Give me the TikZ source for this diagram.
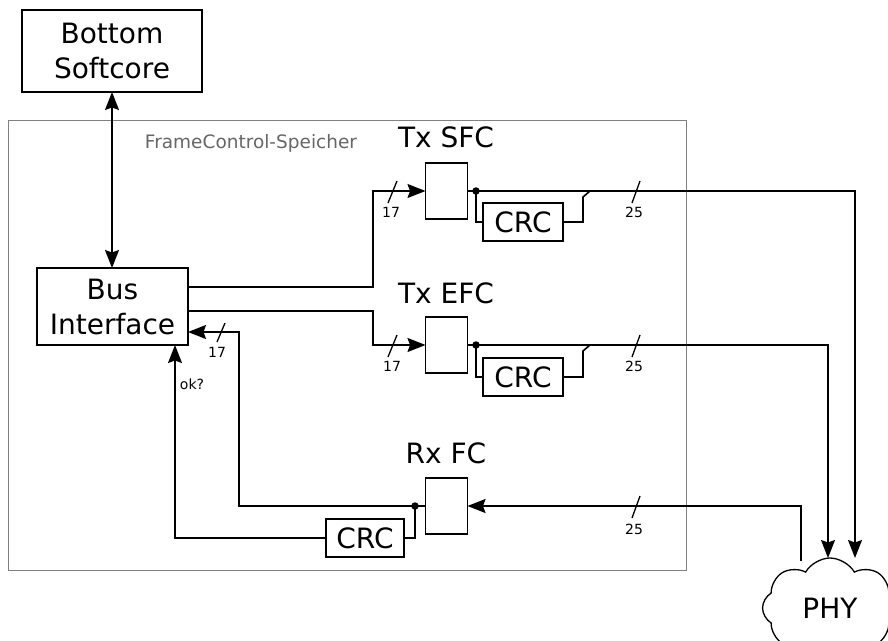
\documentclass[tikz,border=0pt]{standalone}
\usepackage{fontspec}
\setmainfont{DejaVu Sans}
\usetikzlibrary{shapes.symbols,arrows.meta}
\begin{document}
\begin{tikzpicture}[x=1pt,y=-1pt,line width=1.6pt,
  box/.style={draw,line width=1.6pt,inner sep=0pt,outer sep=0pt},
  big/.style={font=\fontsize{28}{35}\selectfont},
  small/.style={font=\fontsize{14}{16}\selectfont},
  tip/.style={-{Stealth[length=18pt,width=14pt,inset=2.5pt]}},
  tips/.style={{Stealth[length=18pt,width=14pt,inset=2.5pt]}-{Stealth[length=18pt,width=14pt,inset=2.5pt]}},
  dot/.style={circle,fill,inner sep=0pt,minimum size=7.5pt},
  lbl/.style={inner sep=0pt}]
\useasboundingbox (0,0) rectangle (888,640);
\clip (0,0) rectangle (888,640);
% frame
\node[draw=black!50,line width=1pt,minimum width=678,minimum height=450,inner sep=0pt] (frame) at (347,345) {};
\node[lbl,text=black!60,font=\fontsize{18.5}{20}\selectfont] (fcs) at (251,143) {FrameControl-Speicher};
% boxes
\node[box,big,align=center,minimum width=180,minimum height=82] (soft) at (112,51) {Bottom\\Softcore};
\node[box,big,align=center,minimum width=151,minimum height=77] (bus) at (112.5,306.5) {Bus\\Interface};
\draw[tips] (soft.south) -- (soft.south |- bus.north);
% registers
\node[box,minimum width=42,minimum height=56] (sfc) at (446.5,191) {};
\node[box,minimum width=42,minimum height=56] (efc) at (446.5,345) {};
\node[box,minimum width=42,minimum height=56] (rx) at (446.5,506) {};
\node[lbl,big] (sfcl) at (446,137) {Tx SFC};
\node[lbl,big] (efcl) at (446,293) {Tx EFC};
\node[lbl,big] (rxl) at (446,453) {Rx FC};
% CRC
\node[box,big,minimum width=80,minimum height=38] (crc1) at (523,222) {CRC};
\node[box,big,minimum width=80,minimum height=38] (crc2) at (523,377) {CRC};
\node[box,big,minimum width=78,minimum height=38] (crc3) at (365,538) {CRC};
% PHY
\node[cloud,draw,line width=1.3pt,cloud puffs=8,cloud puff arc=120,aspect=1.35,minimum width=135,minimum height=100,inner sep=0pt,big] (phy) at (830,608) {PHY};
\coordinate (p1) at (855,558);
\coordinate (p2) at (828,558);
\coordinate (p3) at (801,561);
% dots
\node[dot] (d1) at (476,191) {};
\node[dot] (d2) at (476,345) {};
\node[dot] (d3) at (415,506) {};
% Tx SFC path
\draw[tip] (bus.east |- 0,287) -- (373,287) -- (373,191) -- (sfc.west);
\draw[tip] (sfc.east) -- (855,191) -- (p1);
\draw (d1.center) |- (crc1.west);
\draw (crc1.east) -- (583,222) -- (583,197) -- (590,191);
\draw[line width=1.3pt] (388,203) -- (397,181);
\node[lbl,small] (n17a) at (391,212) {17};
\draw[line width=1.3pt] (632,203) -- (640,181);
\node[lbl,small] (n25a) at (634,212) {25};
% Tx EFC path
\draw[tip] (bus.east |- 0,311) -- (373,311) -- (373,345) -- (efc.west);
\draw[tip] (efc.east) -- (828,345) -- (p2);
\draw (d2.center) |- (crc2.west);
\draw (crc2.east) -- (583,377) -- (583,351) -- (590,345);
\draw[line width=1.3pt] (388,357) -- (397,335);
\node[lbl,small] (n17b) at (392,366) {17};
\draw[line width=1.3pt] (632,357) -- (640,335);
\node[lbl,small] (n25b) at (634,366) {25};
% Rx path
\draw[tip] (p3) -- (801,506) -- (rx.east);
\draw[line width=1.3pt] (632,518) -- (640,496);
\node[lbl,small] (n25c) at (634,529) {25};
\draw[tip] (rx.west) -- (239,506) -- (239,332) -- (bus.east |- 0,332);
\draw[line width=1.3pt] (217,342) -- (225,323);
\node[lbl,small] (n17c) at (217,352) {17};
\draw (d3.center) |- (crc3.east);
\draw[tip] (crc3.west) -- (175,538) -- (175,345);
\node[lbl,small] (ok) at (192,384) {ok?};
\end{tikzpicture}
\end{document}
